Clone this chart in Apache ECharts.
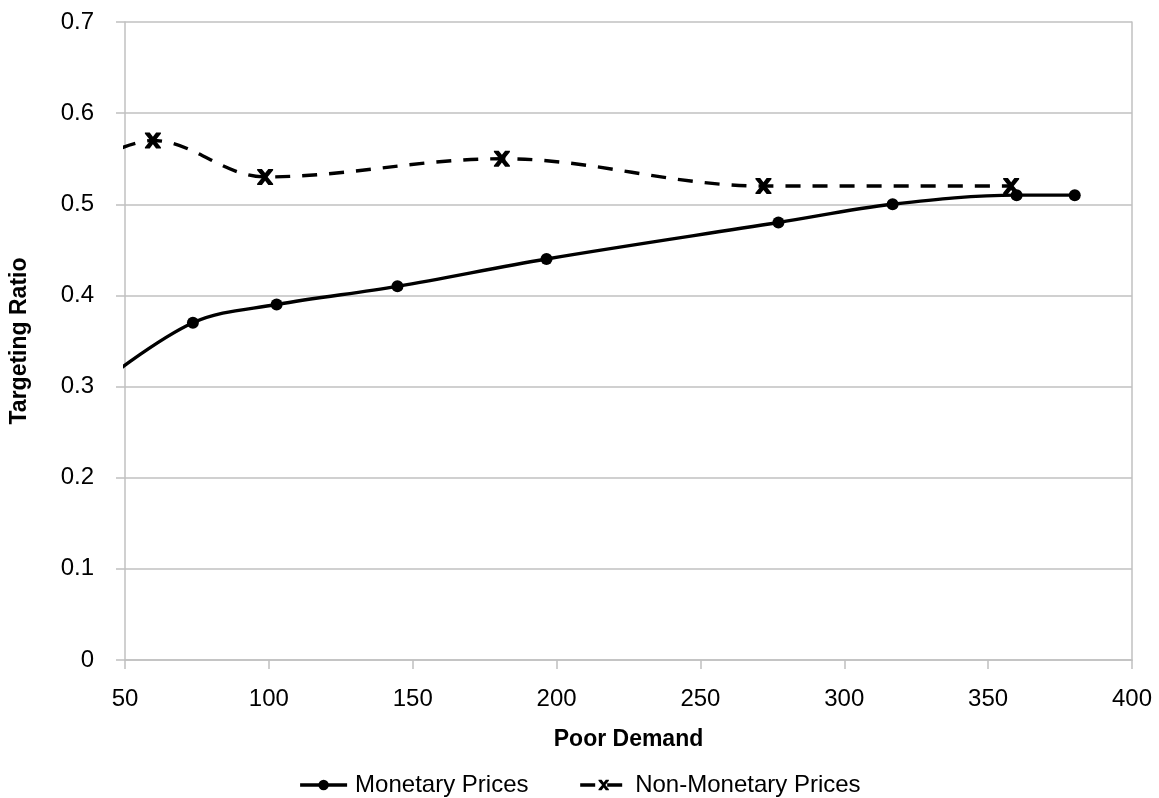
<!DOCTYPE html>
<html>
<head>
<meta charset="utf-8">
<script src="https://cdn.jsdelivr.net/npm/echarts@6/dist/echarts.min.js"></script>
<style>
  html, body { margin: 0; padding: 0; background: #ffffff; }
  #chart { width: 1159px; height: 798px; }
</style>
</head>
<body>
<div id="chart"></div>
<script>
// Targeting ratio against poor demand, for the two pricing schemes
const seriesNames = ['Monetary Prices', 'Non-Monetary Prices'];

// Monetary prices: the first point lies left of the axis range and only shapes the curve entering the plot
const monetaryDemand = [40, 73.6, 102.7, 144.7, 196.5, 277.1, 316.8, 359.9, 380.1];
const monetaryRatio  = [0.30, 0.37, 0.39, 0.41, 0.44, 0.48, 0.50, 0.51, 0.51];

// Non-monetary prices
const nonMonetaryDemand = [40, 59.7, 98.7, 181.0, 271.9, 358.0];
const nonMonetaryRatio  = [0.55, 0.57, 0.53, 0.55, 0.52, 0.52];

// Axis ticks
const xTicks = [50, 100, 150, 200, 250, 300, 350, 400];
const yTicks = [0, 0.1, 0.2, 0.3, 0.4, 0.5, 0.6, 0.7];

const X_MIN = xTicks[0], X_MAX = xTicks[xTicks.length - 1];
const Y_MIN = yTicks[0], Y_MAX = yTicks[yTicks.length - 1];

const FONT = '"Liberation Sans", Arial, sans-serif';
const GRID_GREY = '#c0c0c0';
const LINE_W = 3.4;

// A bold "x" marker drawn as a filled path
const crossPath = 'path://M0,0 L3,0 L5,2.6 L7,0 L10,0 L10,0.8 L6.6,5 L10,9.2 L10,10 L7,10 L5,7.4 L3,10 L0,10 L0,9.2 L3.4,5 L0,0.8 Z';

function toPoints(xs, ys) {
  return xs.map((x, i) => {
    const item = { value: [x, ys[i]] };
    if (x < X_MIN || x > X_MAX) item.symbol = 'none';
    return item;
  });
}

const chart = echarts.init(document.getElementById('chart'), null, { renderer: 'canvas' });

chart.setOption({
  animation: false,
  backgroundColor: '#ffffff',
  textStyle: { fontFamily: FONT, color: '#000' },
  grid: { left: 119, right: 27, top: 22, bottom: 138, containLabel: false },
  legend: {
    top: 768,
    left: 'center',
    itemWidth: 47,
    itemHeight: 13,
    itemGap: 50,
    lineStyle: { width: LINE_W },
    textStyle: { fontFamily: FONT, fontSize: 24, color: '#000', padding: [0, 0, 0, 3] },
    data: seriesNames
  },
  xAxis: {
    type: 'value',
    min: X_MIN,
    max: X_MAX,
    interval: xTicks[1] - xTicks[0],
    name: 'Poor Demand',
    nameLocation: 'middle',
    nameGap: 68,
    nameTextStyle: { fontFamily: FONT, fontSize: 23, fontWeight: 'bold', color: '#000' },
    axisLine: { show: true, lineStyle: { color: GRID_GREY, width: 1.5 } },
    axisTick: { show: true, length: 9, lineStyle: { color: GRID_GREY, width: 1.5 } },
    axisLabel: { fontFamily: FONT, fontSize: 24, color: '#000', margin: 27 },
    splitLine: { show: false }
  },
  yAxis: [
    {
      type: 'value',
      min: Y_MIN,
      max: Y_MAX,
      interval: yTicks[1] - yTicks[0],
      name: 'Targeting Ratio',
      nameLocation: 'middle',
      nameGap: 94,
      nameRotate: 90,
      nameTextStyle: { fontFamily: FONT, fontSize: 23, fontWeight: 'bold', color: '#000' },
      axisLine: { show: true, lineStyle: { color: GRID_GREY, width: 1.5 } },
      axisTick: { show: true, length: 9, lineStyle: { color: GRID_GREY, width: 1.5 } },
      axisLabel: {
        fontFamily: FONT, fontSize: 24, color: '#000', margin: 31,
        formatter: v => (v === 0 ? '0' : v.toFixed(1))
      },
      splitLine: { show: true, lineStyle: { color: GRID_GREY, width: 1.5 } }
    },
    {
      // right-hand frame line of the plot area
      type: 'value',
      position: 'right',
      min: Y_MIN,
      max: Y_MAX,
      interval: yTicks[1] - yTicks[0],
      axisLine: { show: true, lineStyle: { color: GRID_GREY, width: 1.5 } },
      axisTick: { show: false },
      axisLabel: { show: false },
      splitLine: { show: false }
    }
  ],
  series: [
    {
      name: seriesNames[0],
      type: 'line',
      smooth: 0.35,
      clip: true,
      data: toPoints(monetaryDemand, monetaryRatio),
      symbol: 'circle',
      symbolSize: 12,
      showAllSymbol: true,
      lineStyle: { color: '#000', width: LINE_W },
      itemStyle: { color: '#000' }
    },
    {
      name: seriesNames[1],
      type: 'line',
      smooth: 0.35,
      clip: true,
      data: toPoints(nonMonetaryDemand, nonMonetaryRatio),
      symbol: crossPath,
      symbolSize: 16,
      showAllSymbol: true,
      lineStyle: { color: '#000', width: LINE_W, type: [15, 12] },
      itemStyle: { color: '#000' }
    }
  ]
});
</script>
</body>
</html>
